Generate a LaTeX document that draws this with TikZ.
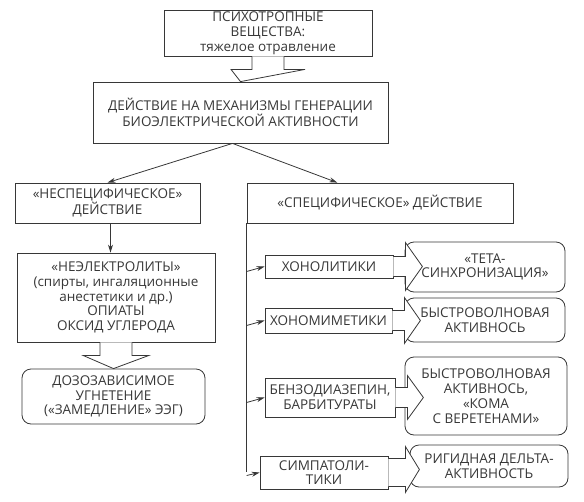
\documentclass[tikz,border=0pt]{standalone}
\usepackage{fontspec}
\setmainfont{Open Sans}
\definecolor{inkgray}{RGB}{55, 55, 55}
\usetikzlibrary{
    arrows.meta,
    positioning,
    calc
}

\begin{document}
\begin{tikzpicture}[x=1pt, y=-1pt,
    every node/.style={text=inkgray, font=\fontsize{13.5}{14.8}\selectfont, align=center, inner sep=0pt},
    plainbox/.style={draw=inkgray, line width=0.8pt},
    roundbox/.style={draw=inkgray, line width=0.8pt, rounded corners=9pt},
    hollow/.style={draw=inkgray, fill=white, line width=0.8pt, line join=miter},
    thin arrow/.style={draw=inkgray, line width=0.8pt, -{Stealth[length=8pt, width=5pt]}}]
            \useasboundingbox (0,0) rectangle (584,501);
            % Top of the scheme
            \node[plainbox, minimum width=208pt, minimum height=46pt] (subst) at (268,33)
                 {ПСИХОТРОПНЫЕ\\ВЕЩЕСТВА:\\тяжелое отравление};
            \node[plainbox, minimum width=295pt, minimum height=61pt] (mech) at (240.5,112.5)
                 {ДЕЙСТВИЕ НА МЕХАНИЗМЫ ГЕНЕРАЦИИ\\БИОЭЛЕКТРИЧЕСКОЙ АКТИВНОСТИ};
            
            % Left branch
            \node[plainbox, minimum width=185pt, minimum height=40pt] (nonspec) at (107.5,203)
                 {«НЕСПЕЦИФИЧЕСКОЕ»\\ДЕЙСТВИЕ};
            \node[plainbox, minimum width=198pt, minimum height=89pt] (nonelec) at (116,297.5)
                 {«НЕЭЛЕКТРОЛИТЫ»\\(спирты, ингаляционные\\анестетики и др.)\\ОПИАТЫ\\ОКСИД УГЛЕРОДА};
            \node[roundbox, minimum width=183pt, minimum height=55pt] (dose) at (113.5,396.5)
                 {ДОЗОЗАВИСИМОЕ\\УГНЕТЕНИЕ\\(«ЗАМЕДЛЕНИЕ» ЭЭГ)};
            
            % Right branch
            \node[plainbox, minimum width=266pt, minimum height=40pt] (spec) at (380,203)
                 {«СПЕЦИФИЧЕСКОЕ» ДЕЙСТВИЕ};
            \node[plainbox, minimum width=128pt, minimum height=23pt] (chol) at (329,266.5) {ХОНОЛИТИКИ};
            \node[plainbox, minimum width=127pt, minimum height=25pt] (chom) at (328.5,320.5) {ХОНОМИМЕТИКИ};
            \node[plainbox, minimum width=130pt, minimum height=39pt] (benz) at (330,397.5)
                 {БЕНЗОДИАЗЕПИН,\\БАРБИТУРАТЫ};
            \node[plainbox, minimum width=128pt, minimum height=33pt] (symp) at (324,472.5)
                 {СИМПАТОЛИ-\\ТИКИ};
            
            % EEG results
            \node[roundbox, minimum width=160pt, minimum height=50pt] (cholres) at (485,267)
                 {«ТЕТА-\\СИНХРОНИЗАЦИЯ»};
            \node[roundbox, minimum width=160pt, minimum height=44pt] (chomres) at (485,320)
                 {БЫСТРОВОЛНОВАЯ\\АКТИВНОСЬ};
            \node[roundbox, minimum width=162pt, minimum height=78pt] (benzres) at (486,396)
                 {БЫСТРОВОЛНОВАЯ\\АКТИВНОСЬ,\\«КОМА\\С ВЕРЕТЕНАМИ»};
            \node[roundbox, minimum width=158pt, minimum height=42pt] (sympres) at (489,466)
                 {РИГИДНАЯ ДЕЛЬТА-\\АКТИВНОСТЬ};
            
            % Thin arrows
            \draw[thin arrow] ($(mech.south)+(-8,0)$) -- (nonspec.north);
            \draw[thin arrow] ($(mech.south)+(-8,0)$) -- ($(spec.north west)!0.34!(spec.north east)$);
            \draw[thin arrow] ($(nonspec.south)+(3,0)$) -- ($(nonspec.south |- nonelec.north)+(3,0)$);
            \coordinate (trunkend) at ($(spec.south west)+(0,249)$);
            \draw[draw=inkgray, line width=0.8pt] (spec.south west) -- (trunkend);
            \draw[thin arrow] ($(spec.south west |- chol.west)+(0,5)$) -- (chol.west);
            \draw[thin arrow] ($(spec.south west |- chom.west)+(0,5)$) -- (chom.west);
            \draw[thin arrow] ($(spec.south west |- benz.west)+(0,5)$) -- (benz.west);
            \draw[thin arrow] ($(spec.south west |- symp.west)+(0,3)$) -- (symp.west);
            
            % Hollow arrows, down
            \draw[hollow] ($(subst.south)+(-16,0)$) -- ++(0,13) -- ++(-21,0) -- (mech.north)
                -- ($(subst.south)+(37,13)$) -- ++(-21,0) -- ($(subst.south)+(16,0)$);
            \draw[hollow] ($(nonelec.south)+(-16,0)$) -- ++(0,13) -- ++(-17,0) -- (dose.north)
                -- ($(nonelec.south)+(33,13)$) -- ++(-17,0) -- ($(nonelec.south)+(16,0)$);
            
            % Hollow arrows, right
            \draw[hollow] ($(chol.east)+(0,-10)$) -- ++(12,0) -- ++(0,-14) -- ($(chol.east)+(29,0)$)
                -- ($(chol.east)+(12,24)$) -- ++(0,-14) -- ($(chol.east)+(0,10)$);
            \draw[hollow] ($(chom.east)+(0,-10)$) -- ++(12,0) -- ++(0,-13) -- ($(chom.east)+(28,0)$)
                -- ($(chom.east)+(12,23)$) -- ++(0,-13) -- ($(chom.east)+(0,10)$);
            \draw[hollow] ($(benz.east)+(0,-10)$) -- ++(12,0) -- ++(0,-12) -- ($(benz.east)+(28,0)$)
                -- ($(benz.east)+(12,22)$) -- ++(0,-12) -- ($(benz.east)+(0,10)$);
            \draw[hollow] ($(symp.east)+(0,-14)$) -- ++(17,0) -- ++(0,-12) -- ($(symp.east)+(31,-3)$)
                -- ($(symp.east)+(17,20)$) -- ++(0,-6) -- ($(symp.east)+(0,14)$);
\end{tikzpicture}
\end{document}
